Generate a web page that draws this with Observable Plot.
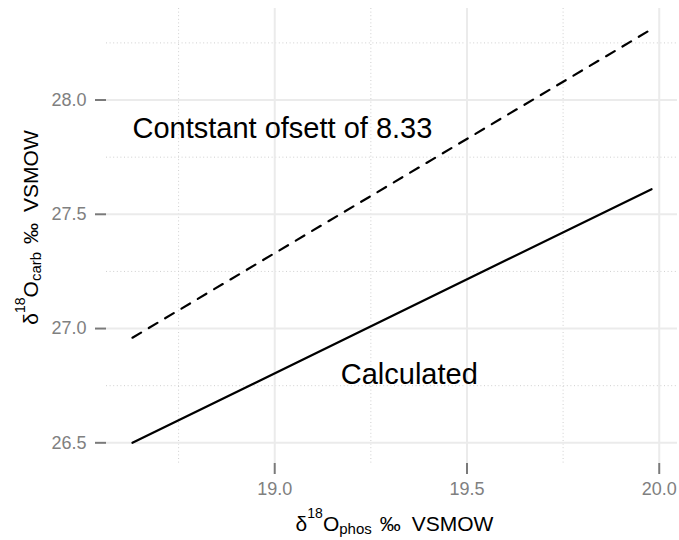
<!DOCTYPE html>
<html>
<head>
<meta charset="utf-8">
<script src="https://cdn.jsdelivr.net/npm/d3@7"></script>
<script src="https://cdn.jsdelivr.net/npm/@observablehq/plot@0.6"></script>
<style>
  body { margin: 0; background: #fff; }
  #chart svg { display: block; }
</style>
</head>
<body>
<div id="chart"></div>
<script>
// Phosphate δ18O (x) and the two carbonate δ18O estimates (y)
const phos = [18.63, 19.98];
const carbOffset = [26.96, 28.31];   // phosphate + 8.33
const carbCalc = [26.50, 27.61];     // calculated relation

// Axis ticks and grid
const xTicks = [19.0, 19.5, 20.0];
const yTicks = [26.5, 27.0, 27.5, 28.0];
const xMinor = [18.75, 19.25, 19.75];
const yMinor = [26.75, 27.25, 27.75, 28.25];

// In-panel annotations
const noteText = ["Contstant ofsett of 8.33", "Calculated"];
const noteX = [19.02, 19.35];
const noteY = [27.874, 26.80];

const offsetRows = phos.map((x, i) => ({x, y: carbOffset[i]}));
const calcRows = phos.map((x, i) => ({x, y: carbCalc[i]}));
const notes = noteText.map((t, i) => ({t, x: noteX[i], y: noteY[i]}));

// 5% padding around the data range on both axes
function expand(values, f = 0.05) {
  const [a, b] = d3.extent(values);
  const p = (b - a) * f;
  return [a - p, b + p];
}
const xDomain = expand(phos);
const yDomain = expand([...carbOffset, ...carbCalc]);

const FONT = "'Liberation Sans', Arial, Helvetica, sans-serif";
const W = 679, H = 540;
const M = {left: 106, right: 2, top: 8, bottom: 77};

const svg = Plot.plot({
  width: W,
  height: H,
  marginLeft: M.left,
  marginRight: M.right,
  marginTop: M.top,
  marginBottom: M.bottom,
  style: {fontFamily: FONT, fontSize: "18px", background: "#fff", overflow: "visible"},
  x: {domain: xDomain},
  y: {domain: yDomain},
  marks: [
    Plot.ruleX(xMinor, {stroke: "#cfcfcf", strokeWidth: 1, strokeDasharray: "1,2.6"}),
    Plot.ruleY(yMinor, {stroke: "#cfcfcf", strokeWidth: 1, strokeDasharray: "1,2.6"}),
    Plot.ruleX(xTicks, {stroke: "#ebebeb", strokeWidth: 2}),
    Plot.ruleY(yTicks, {stroke: "#ebebeb", strokeWidth: 2}),
    Plot.axisX({
      ticks: xTicks, tickFormat: d3.format(".1f"), tickSize: 11, tickPadding: 8,
      stroke: "#7a7a7a", strokeWidth: 2, fill: "#808080", fontSize: 18, label: null
    }),
    Plot.axisY({
      ticks: yTicks, tickFormat: d3.format(".1f"), tickSize: 11, tickPadding: 9,
      stroke: "#7a7a7a", strokeWidth: 2, fill: "#808080", fontSize: 18, label: null
    }),
    Plot.line(offsetRows, {x: "x", y: "y", stroke: "#000", strokeWidth: 2.2, strokeDasharray: "10,9"}),
    Plot.line(calcRows, {x: "x", y: "y", stroke: "#000", strokeWidth: 2.2}),
    Plot.text(notes, {x: "x", y: "y", text: "t", fontSize: 29, fill: "#000"})
  ]
});

// Axis titles with super- and subscripts
const root = d3.select(svg);
root.selectAll("g[aria-label$='tick label']").style("font-size", "18px");

const cx = M.left + (W - M.left - M.right) / 2 + 3;
const cy = M.top + (H - M.top - M.bottom) / 2;

function title(g, sub) {
  const t = g.append("text")
    .attr("text-anchor", "middle")
    .attr("font-family", FONT)
    .style("font-size", "21px")
    .attr("fill", "#000");
  t.append("tspan").text("δ");
  t.append("tspan").style("font-size", "14px").attr("dy", -13).text("18");
  t.append("tspan").attr("dy", 13).text("O");
  t.append("tspan").style("font-size", "15px").attr("dy", 3).text(sub);
  t.append("tspan").attr("dy", -3).attr("dx", 8).text("‰");
  t.append("tspan").attr("dx", 11).text("VSMOW");
}

title(root.append("g").attr("transform", `translate(${cx},531)`), "phos");
title(root.append("g").attr("transform", `translate(38,${cy - 8}) rotate(-90)`), "carb");

document.getElementById("chart").appendChild(svg);
</script>
</body>
</html>
